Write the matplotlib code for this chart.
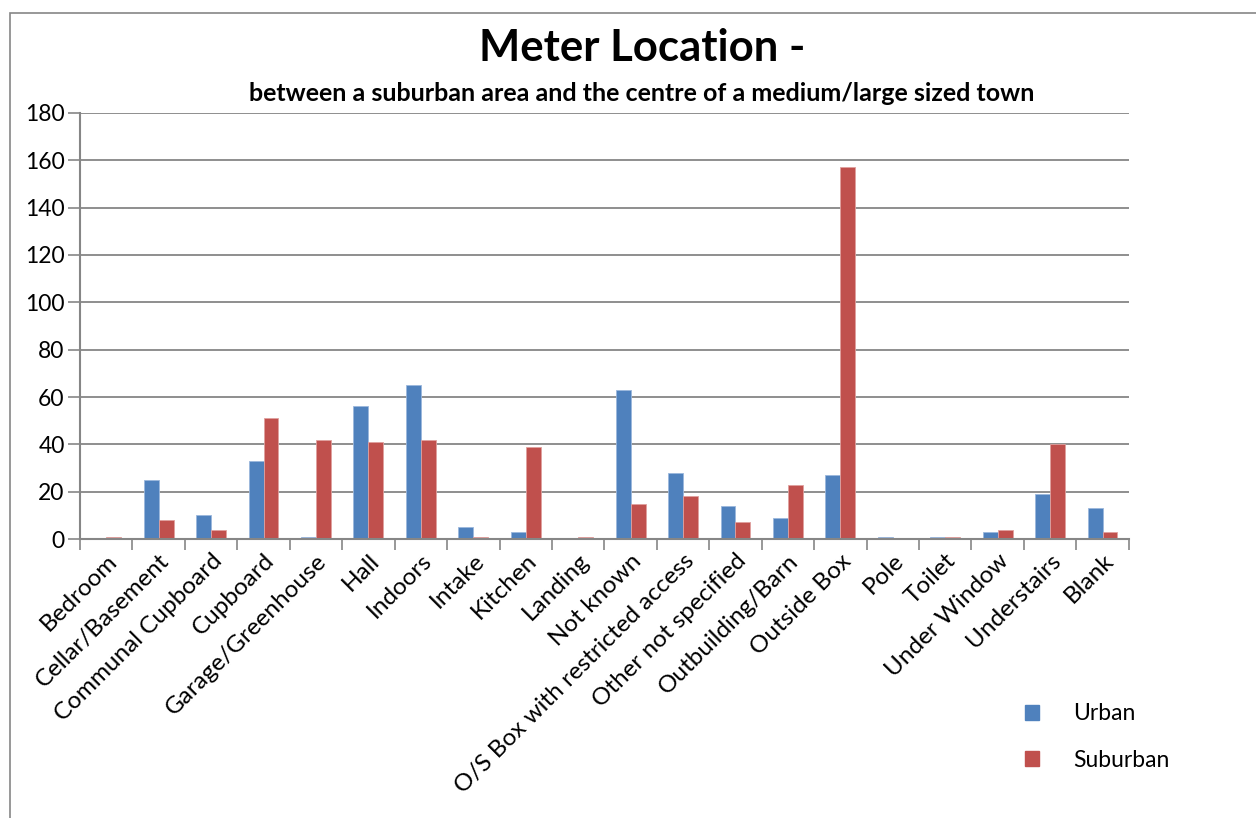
import matplotlib
matplotlib.use("Agg")
import matplotlib.pyplot as plt
import numpy as np
from matplotlib.patches import Rectangle, Patch

categories = ["Bedroom", "Cellar/Basement", "Communal Cupboard", "Cupboard",
              "Garage/Greenhouse", "Hall", "Indoors", "Intake", "Kitchen",
              "Landing", "Not known", "O/S Box with restricted access",
              "Other not specified", "Outbuilding/Barn", "Outside Box", "Pole",
              "Toilet", "Under Window", "Understairs", "Blank"]
urban = [0, 25, 10, 33, 1, 56, 65, 5, 3, 0, 63, 28, 14, 9, 27, 1, 1, 3, 19, 13]
suburban = [1, 8, 4, 51, 42, 41, 42, 1, 39, 1, 15, 18, 7, 23, 157, 0, 1, 4, 40, 3]
y_ticks = [0, 20, 40, 60, 80, 100, 120, 140, 160, 180]

plt.rcParams['font.family'] = ['Lato', 'DejaVu Sans']

blue = '#4F81BD'
red = '#C0504D'
grey = '#868686'

fig = plt.figure(figsize=(12.56, 8.18), dpi=100)
ax = fig.add_axes([0.0637, 0.341, 0.835, 0.521])

x = np.arange(len(categories))
w = 0.285
ax.bar(x - w / 2, urban, w, color=blue, edgecolor='#9BB7DC', linewidth=0.6)
ax.bar(x + w / 2, suburban, w, color=red, edgecolor='#E0A09E', linewidth=0.6)

ax.set_xlim(-0.5, len(categories) - 0.5)
ax.set_ylim(0, 180)
ax.set_yticks(y_ticks)
ax.tick_params(axis='y', labelsize=16.5, length=9, width=1.2, color=grey, pad=2)
ax.yaxis.grid(True, color=grey, linewidth=1.3)
ax.set_axisbelow(True)

# category labels sit on the centres, tick marks at the boundaries
ax.set_xticks(np.arange(len(categories) + 1) - 0.5)
ax.set_xticklabels([])
ax.tick_params(axis='x', length=8, width=1.2, color=grey)
ax.set_xticks(x, minor=True)
ax.set_xticklabels(categories, minor=True, rotation=45, ha='right',
                   rotation_mode='anchor', fontsize=17.5)
ax.tick_params(axis='x', which='minor', length=0, pad=8)

for side in ['top', 'right']:
    ax.spines[side].set_visible(False)
for side in ['left', 'bottom']:
    ax.spines[side].set_color(grey)
    ax.spines[side].set_linewidth(1.5)

fig.text(0.511, 0.941, "Meter Location -", ha='center', va='center',
         fontsize=31.5, fontweight='bold')
fig.text(0.511, 0.886, "between a suburban area and the centre of a medium/large sized town",
         ha='center', va='center', fontsize=18, fontweight='bold')

handles = [Patch(color=blue, label='Urban'), Patch(color=red, label='Suburban')]
fig.legend(handles=handles, loc='center left', bbox_to_anchor=(0.8, 0.099),
           frameon=False, fontsize=16.5, handlelength=0.6, handleheight=0.6,
           handletextpad=1.5, labelspacing=1.1)

fig.add_artist(Rectangle((10 / 1256, -0.05), 1.2, 1.05 - 13 / 818,
                         transform=fig.transFigure, fill=False,
                         edgecolor=grey, linewidth=1.2))

fig.savefig("out.png", dpi=100)
